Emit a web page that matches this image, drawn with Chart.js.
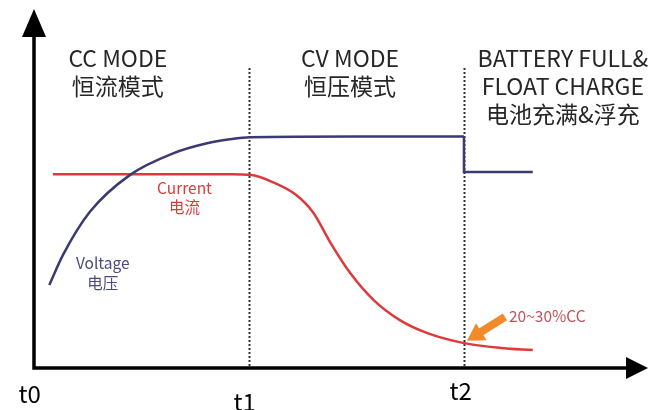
<!DOCTYPE html>
<html>
<head>
<meta charset="utf-8">
<script src="https://cdn.jsdelivr.net/npm/chart.js@4.4.1/dist/chart.umd.min.js"></script>
<style>
  html, body { margin: 0; padding: 0; background: #fff; }
  #caja { width: 649px; height: 410px; }
</style>
</head>
<body>
<div id="caja"><canvas id="grafico"></canvas></div>
<script>
// Datos (x = tiempo, t1 = 10, t2 = 20; y = nivel relativo 0-100)
const tickLabels = ['t0', 't1', 't2'];
const tickValues = [0, 10, 20];

const voltageX = [0.71, 1.35, 2.6, 4.47, 6.47, 8.05, 9.1, 10.05, 15, 20];
const voltageY = [23.1, 31.5, 43.5, 53.8, 59.8, 62.6, 63.7, 64.3, 64.5, 64.5];

const floatX = [20, 20, 23.2];
const floatY = [64.5, 54.6, 54.6];

const currentX = [0.88, 5, 9.2, 10.05, 11.1, 12.2, 13.0, 13.8, 14.7, 15.8, 17.0, 18.3, 19.95, 21.7, 23.2];
const currentY = [54.0, 54.0, 54.0, 53.8, 51.8, 48.2, 43.2, 34.8, 26.5, 18.9, 13.4, 9.7, 7.0, 5.6, 5.0];

const modeLabels = [
    { x: 3.9, lines: ['CC MODE', '恒流模式'] },
    { x: 14.7, lines: ['CV MODE', '恒压模式'] },
    { x: 24.6, lines: ['BATTERY FULL&', 'FLOAT CHARGE', '电池充满&浮充'] }
];

const AZUL = '#3b3a72';
const ROJO = '#dc3a3c';
const NARANJA = '#f28a2c';
const FUENTE = '"Noto Sans CJK SC", "Open Sans", sans-serif';

function puntos(xs, ys) {
    return xs.map((x, i) => ({ x: x, y: ys[i] }));
}

// Plugin que dibuja ejes con flechas, lineas punteadas y textos
const decoracion = {
    id: 'decoracion',
    beforeDatasetsDraw(chart) {
        const ctx = chart.ctx;
        const xs = chart.scales.x;
        const area = chart.chartArea;
        ctx.save();
        ctx.strokeStyle = '#333';
        ctx.lineWidth = 2;
        ctx.setLineDash([2, 2]);
        [tickValues[1], tickValues[2]].forEach(v => {
            const px = Math.round(xs.getPixelForValue(v)) + 0.5;
            ctx.beginPath();
            ctx.moveTo(px, 68);
            ctx.lineTo(px, area.bottom);
            ctx.stroke();
        });
        ctx.restore();
    },
    afterDatasetsDraw(chart) {
        const ctx = chart.ctx;
        const xs = chart.scales.x;
        const ys = chart.scales.y;
        const area = chart.chartArea;
        ctx.save();

        // Ejes
        ctx.strokeStyle = '#000';
        ctx.fillStyle = '#000';
        ctx.lineWidth = 3.5;
        ctx.beginPath();
        ctx.moveTo(area.left, area.top + 20);
        ctx.lineTo(area.left, area.bottom);
        ctx.lineTo(area.right - 18, area.bottom);
        ctx.stroke();
        ctx.beginPath();
        ctx.moveTo(area.left, area.top);
        ctx.lineTo(area.left - 12, area.top + 28);
        ctx.lineTo(area.left + 12, area.top + 28);
        ctx.closePath();
        ctx.fill();
        ctx.beginPath();
        ctx.moveTo(area.right, area.bottom);
        ctx.lineTo(area.right - 22, area.bottom - 11);
        ctx.lineTo(area.right - 22, area.bottom + 11);
        ctx.closePath();
        ctx.fill();

        // Etiquetas t0, t1, t2
        ctx.font = '24px ' + FUENTE;
        ctx.textAlign = 'center';
        ctx.textBaseline = 'alphabetic';
        const tickY = [403, 411, 400];
        const tickOff = [-0.2, -0.2, -0.15];
        tickLabels.forEach((t, i) => {
            ctx.fillText(t, xs.getPixelForValue(tickValues[i] + tickOff[i]), tickY[i]);
        });

        // Modos
        ctx.font = '23px ' + FUENTE;
        ctx.fillStyle = '#262626';
        modeLabels.forEach(m => {
            const cx = xs.getPixelForValue(m.x);
            m.lines.forEach((l, j) => {
                ctx.fillText(l, cx, 67 + j * 28);
            });
        });

        // Etiquetas de las curvas
        ctx.font = '15.5px ' + FUENTE;
        ctx.fillStyle = ROJO;
        ctx.fillText('Current', xs.getPixelForValue(7.0), 194);
        ctx.fillText('电流', xs.getPixelForValue(7.0), 213);
        ctx.fillStyle = '#4a4a7e';
        ctx.fillText('Voltage', xs.getPixelForValue(3.2), 269);
        ctx.fillText('电压', xs.getPixelForValue(3.2), 289);
        ctx.fillStyle = '#c4505c';
        ctx.textAlign = 'left';
        ctx.fillText('20~30%CC', 509, 322);

        // Flecha naranja hacia la corriente en t2
        const tipX = xs.getPixelForValue(20) + 3;
        const tipY = ys.getPixelForValue(currentY[12]) - 2;
        const ang = Math.atan2(-24, 38);
        ctx.strokeStyle = NARANJA;
        ctx.fillStyle = NARANJA;
        ctx.lineWidth = 8;
        ctx.lineCap = 'butt';
        ctx.beginPath();
        ctx.moveTo(tipX + 38, tipY - 24);
        ctx.lineTo(tipX + 12 * Math.cos(ang), tipY + 12 * Math.sin(ang));
        ctx.stroke();
        ctx.beginPath();
        ctx.moveTo(tipX, tipY);
        ctx.lineTo(tipX + 17 * Math.cos(ang) - 10 * Math.sin(ang), tipY + 17 * Math.sin(ang) + 10 * Math.cos(ang));
        ctx.lineTo(tipX + 17 * Math.cos(ang) + 10 * Math.sin(ang), tipY + 17 * Math.sin(ang) - 10 * Math.cos(ang));
        ctx.closePath();
        ctx.fill();

        ctx.restore();
    }
};

const ctx = document.getElementById('grafico').getContext('2d');
const myChart = new Chart(ctx, {
    type: 'line',
    data: {
        datasets: [
            {
                label: 'Voltage',
                data: puntos(voltageX, voltageY),
                borderColor: AZUL,
                borderWidth: 2.5,
                cubicInterpolationMode: 'monotone',
                pointRadius: 0
            },
            {
                label: 'Float',
                data: puntos(floatX, floatY),
                borderColor: AZUL,
                borderWidth: 2.5,
                tension: 0,
                pointRadius: 0
            },
            {
                label: 'Current',
                data: puntos(currentX, currentY),
                borderColor: ROJO,
                borderWidth: 2.5,
                cubicInterpolationMode: 'monotone',
                pointRadius: 0
            }
        ]
    },
    options: {
        responsive: true,
        maintainAspectRatio: false,
        animation: false,
        events: [],
        layout: { padding: { left: 34, right: 1, top: 9, bottom: 42 } },
        scales: {
            x: { type: 'linear', min: 0, max: 28.56, display: false },
            y: { min: 0, max: 100, display: false }
        },
        plugins: {
            legend: { display: false },
            tooltip: { enabled: false }
        }
    },
    plugins: [decoracion]
});
</script>
</body>
</html>
